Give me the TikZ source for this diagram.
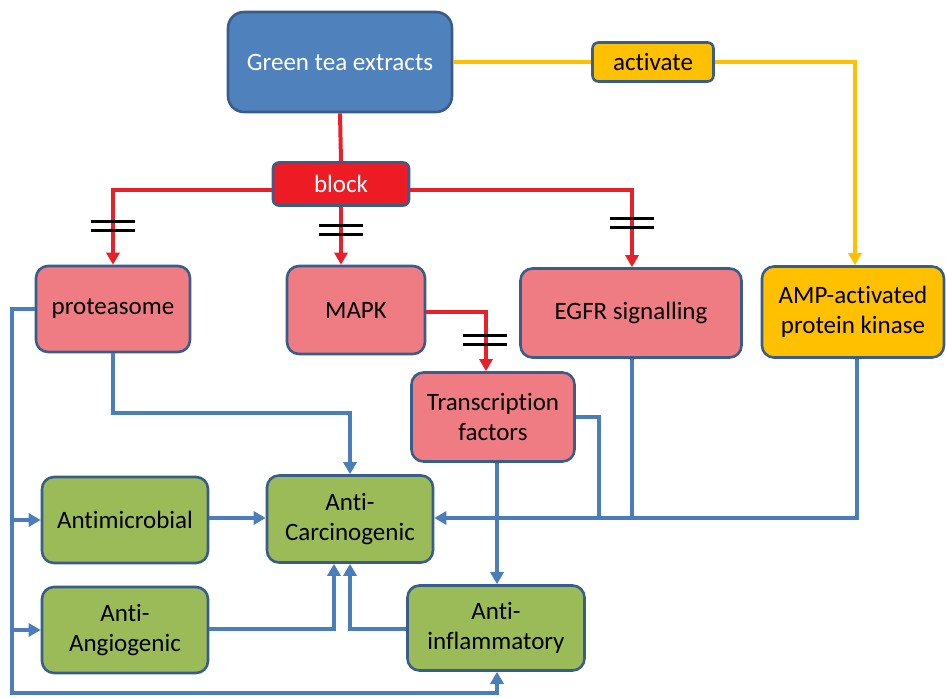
\documentclass[tikz,border=0pt]{standalone}
\usepackage{fontspec}
\setmainfont{Carlito}[Ligatures=NoCommon]
\usetikzlibrary{arrows.meta}
\definecolor{gtblue}{HTML}{4F81BD}
\definecolor{bordblue}{HTML}{385D8A}
\definecolor{blockred}{HTML}{ED1C24}
\definecolor{pinkfill}{HTML}{F07C83}
\definecolor{greenfill}{HTML}{9BBB59}
\definecolor{yellowfill}{HTML}{FFC000}
\definecolor{linered}{HTML}{E8202A}
\definecolor{lineblue}{HTML}{4A7EBB}
\tikzset{
  box/.style={draw=bordblue, line width=2.6pt, rounded corners=12pt, align=center, inner sep=0pt, font=\fontsize{25}{30}\selectfont},
  pinkbox/.style={box, fill=pinkfill},
  greenbox/.style={box, fill=greenfill},
  redln/.style={draw=linered, line width=4pt},
  blueln/.style={draw=lineblue, line width=4pt},
  yelln/.style={draw=yellowfill, line width=4pt},
  tip/.style={-{Triangle[length=12pt,width=13pt]}},
  bars/.style={draw=black, line width=3pt}
}
\begin{document}
\begin{tikzpicture}[x=1pt,y=-1pt]
\useasboundingbox (0,0) rectangle (946,698);
% nodes
\node[box, fill=gtblue, text=white, minimum width=224pt, minimum height=100pt, rounded corners=16pt] (gt) at (340,62) {Green tea extracts};
\node[box, fill=yellowfill, minimum width=121pt, minimum height=39pt, rounded corners=6pt] (act) at (653,62) {activate};
\node[box, fill=blockred, text=white, minimum width=136pt, minimum height=43pt, rounded corners=6pt] (blk) at (341,184) {block};
\node[pinkbox, minimum width=154pt, minimum height=86pt] (prot) at (113,309) {proteasome};
\node[pinkbox, minimum width=138pt, minimum height=88pt] (mapk) at (356,310) {MAPK};
\node[pinkbox, minimum width=221pt, minimum height=89pt] (egfr) at (631,313) {EGFR signalling};
\node[box, fill=yellowfill, minimum width=182pt, minimum height=91pt] (amp) at (853,312) {AMP-activated\\protein kinase};
\node[pinkbox, minimum width=163pt, minimum height=89pt] (tf) at (493,417) {Transcription\\factors};
\node[greenbox, minimum width=166pt, minimum height=86pt] (amic) at (125,520) {Antimicrobial};
\node[greenbox, minimum width=166pt, minimum height=87pt] (acar) at (350,519) {Anti-\\Carcinogenic};
\node[greenbox, minimum width=166pt, minimum height=86pt] (aang) at (125,630) {Anti-\\Angiogenic};
\node[greenbox, minimum width=177pt, minimum height=85pt] (ainf) at (496,628) {Anti-\\inflammatory};
% coordinates
\coordinate (bL) at (113,190);
\coordinate (bR) at (632,190);
\coordinate (aR) at (855,62);
\coordinate (mR) at (486,312);
\coordinate (pL) at (12,309);
\coordinate (pB) at (12,693);
\coordinate (iB) at (497,693);
\coordinate (pD) at (113,413);
\coordinate (pD2) at (350,413);
\coordinate (angC) at (334,629);
\coordinate (infC) at (350,629);
\coordinate (tfR) at (599,417);
\coordinate (mergeY) at (599,518);
\coordinate (egfrY) at (632,518);
\coordinate (ampY) at (857,518);
% red connectors
\draw[redln] (gt.south) -- (blk.north);
\draw[redln, tip] (blk.west |- 0,190) -- (bL) -- (prot.north -| bL);
\draw[redln, tip] (blk.south -| 341,0) -- (mapk.north -| 341,0);
\draw[redln, tip] (blk.east |- 0,190) -- (bR) -- (egfr.north -| bR);
\draw[redln, tip] (mapk.east |- 0,312) -- (mR) -- (tf.north -| mR);
% bars
\draw[bars] (91,222) -- (135,222) (91,231) -- (135,231);
\draw[bars] (319,226) -- (363,226) (319,235) -- (363,235);
\draw[bars] (610,219) -- (654,219) (610,228) -- (654,228);
\draw[bars] (463,335) -- (507,335) (463,344) -- (507,344);
% yellow connectors
\draw[yelln] (gt.east) -- (act.west);
\draw[yelln, tip] (act.east) -- (aR) -- (amp.north -| aR);
% blue connectors
\draw[blueln, tip] (prot.west) -- (pL) -- (pB) -- (iB) -- (ainf.south -| iB);
\draw[blueln, tip] (12,520) -- (amic.west);
\draw[blueln, tip] (12,630) -- (aang.west);
\draw[blueln, tip] (prot.south -| pD) -- (pD) -- (pD2) -- (acar.north -| pD2);
\draw[blueln, tip] (amic.east |- 0,518) -- (acar.west |- 0,518);
\draw[blueln, tip] (aang.east |- 0,629) -- (angC) -- (acar.south -| angC);
\draw[blueln, tip] (ainf.west |- 0,629) -- (infC) -- (acar.south -| infC);
\draw[blueln, tip] (tf.south -| 497,0) -- (ainf.north -| 497,0);
\draw[blueln] (tf.east |- 0,417) -- (tfR) -- (mergeY);
\draw[blueln] (egfr.south -| egfrY) -- (egfrY);
\draw[blueln, tip] (amp.south -| ampY) -- (ampY) -- (acar.east |- 0,518);
\end{tikzpicture}
\end{document}
